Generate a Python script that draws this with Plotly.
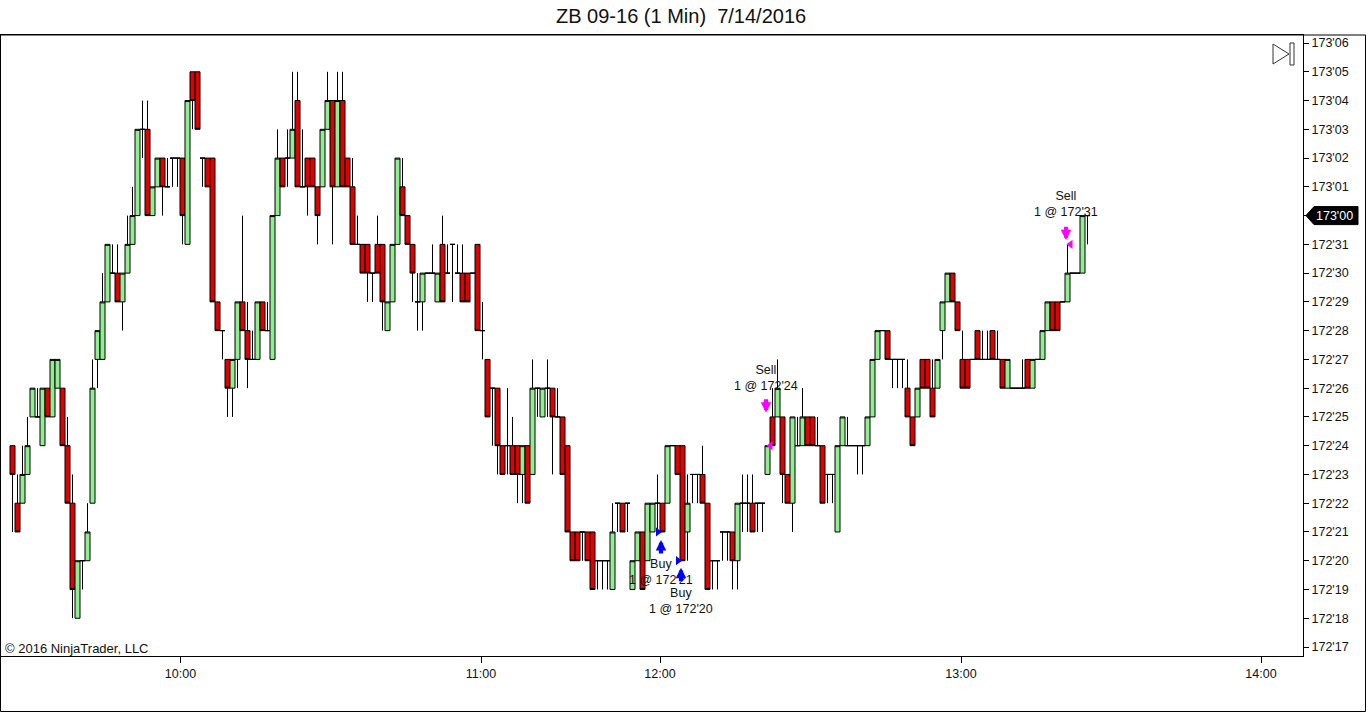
import plotly.graph_objects as go

# Prices are in 32nds above 172'00  (e.g. 24 -> 172'24, 32 -> 173'00)
opens = [24,22,22,23,25,25,24,26,25,26,26,24,22,18,20,20,22,27,27,29,
         30,30,29,30,31,32,35,35,32,33,34,33,34,34,34,31,37,37,34,34,
         34,29,28,27,26,27,29,28,27,27,29,28,27,32,34,34,34,36,33,34,
         34,33,33,35,36,33,36,34,33,31,31,31,30,31,31,28,29,31,33,32,
         31,29,29,30,30,29,31,30,31,30,30,30,30,31,28,27,26,26,24,24,
         24,24,23,24,23,26,25,26,26,25,25,24,21,21,21,21,21,20,20,20,
         19,22,22,22,19,20,21,20,21,22,22,22,24,24,24,21,23,23,23,22,
         20,20,21,21,21,20,22,22,22,22,22,23,25,25,25,23,22,24,24,25,
         25,24,24,23,23,21,24,24,24,24,24,24,25,27,28,28,27,27,27,26,
         25,25,27,27,26,26,28,29,30,29,27,27,27,28,27,27,28,27,27,26,
         26,26,26,27,26,27,27,28,29,29,29,29,30,30,30,32]
highs = [24,23,24,25,26,26,26,26,27,27,26,25,23,20,20,22,27,28,30,31,
         31,31,30,32,33,35,36,36,33,34,34,34,34,34,34,36,37,37,34,34,
         34,29,28,27,27,29,32,29,28,29,29,29,32,35,34,35,37,37,35,34,
         34,33,35,37,36,37,37,34,34,32,31,31,30,32,31,29,31,34,34,32,
         31,30,30,30,31,30,32,31,31,31,31,30,30,31,29,27,26,26,24,26,
         25,24,24,24,27,26,26,27,26,26,25,24,21,21,21,21,21,20,20,20,
         22,22,22,22,20,21,21,22,22,23,22,24,24,24,24,23,23,23,24,22,
         20,20,21,21,21,22,23,23,23,22,22,24,26,27,25,23,25,25,26,25,
         25,25,24,23,23,24,25,25,24,24,24,25,27,28,28,28,27,27,27,27,
         25,26,27,27,27,27,29,30,30,29,28,27,27,28,28,28,28,28,27,27,
         26,26,27,27,27,27,28,29,29,29,29,31,30,30,32,32]
lows = [21,21,22,23,25,25,24,25,25,26,24,22,18,18,19,20,22,26,27,29,
        30,29,28,30,31,32,34,32,32,33,32,33,33,33,31,31,35,35,33,33,
        29,28,27,25,25,26,28,26,27,27,28,28,27,32,33,33,34,33,33,32,
        33,31,33,35,31,33,33,33,31,31,30,29,29,30,28,28,29,31,32,31,
        29,28,28,30,30,29,29,30,29,30,29,29,30,28,27,25,24,23,23,23,
        23,22,22,22,23,25,25,25,23,25,23,21,20,20,20,20,19,19,19,19,
        19,21,21,21,19,20,19,20,21,21,21,22,24,23,20,20,22,22,22,19,
        19,19,20,20,19,19,21,21,21,21,21,23,24,25,22,22,21,24,24,24,
        24,24,22,22,22,21,24,24,24,23,23,24,25,27,28,27,26,26,26,25,
        24,25,26,26,25,26,27,29,29,28,26,26,27,27,27,27,27,27,26,26,
        26,26,26,26,26,27,27,28,28,28,29,29,30,30,30,31]
closes = [23,21,23,24,26,25,26,25,27,27,24,22,19,20,20,21,26,28,29,31,
          30,29,30,31,32,35,35,32,33,34,33,33,34,34,32,36,36,35,34,33,
          29,28,28,26,27,29,28,27,27,29,28,28,32,34,33,34,35,33,33,33,
          33,32,35,36,33,36,33,33,31,31,30,30,30,30,29,29,31,34,32,31,
          30,29,30,30,30,30,29,30,31,30,29,29,30,28,28,25,26,24,23,24,
          23,23,24,22,26,26,26,26,25,25,23,21,20,20,21,20,19,20,20,20,
          21,22,21,22,20,21,19,22,22,22,21,24,24,23,20,22,23,23,22,19,
          20,20,21,21,20,22,22,22,21,22,22,24,24,26,23,22,25,24,25,24,
          24,24,22,23,23,24,25,24,24,24,24,25,27,28,28,27,27,27,27,25,
          24,26,26,26,25,27,29,30,29,28,26,26,27,27,27,27,27,27,26,27,
          26,26,26,26,27,27,28,29,28,28,29,30,30,30,32,32]
bar_index = list(range(len(opens)))

# x-axis time labels (bar positions of the hour marks)
time_tick_pos = [33.6, 93.7, 129.5, 189.7, 249.7]
time_tick_text = ["10:00", "11:00", "12:00", "13:00", "14:00"]

# y-axis price labels
price_ticks = list(range(17, 39))
price_tick_text = [f"{172 + p // 32}'{p % 32:02d}" for p in price_ticks]

# executions
exec_bar = [130, 134, 151, 211]
exec_price = [21, 20, 24, 31]
exec_side = ["Buy", "Buy", "Sell", "Sell"]
exec_label = ["1 @ 172'21", "1 @ 172'20", "1 @ 172'24", "1 @ 172'31"]

# ---------------------------------------------------------------
W, H = 1366, 712
ML, MR, MT, MB = 1, 63, 35, 56
PW, PH = W - ML - MR, H - MT - MB
FONT = "Liberation Sans, Arial, sans-serif"


def px(x):
    return (x - ML) / PW


def py(y):
    return (H - MB - y) / PH


last_close = closes[-1]
# the last-price marker covers its own axis label
axis_tick_text = ["" if p == last_close else t for p, t in zip(price_ticks, price_tick_text)]

fig = go.Figure()
fig.add_trace(go.Candlestick(
    x=bar_index, open=opens, high=highs, low=lows, close=closes,
    increasing=dict(fillcolor="#90ee90", line=dict(color="black", width=1)),
    decreasing=dict(fillcolor="#e00000", line=dict(color="black", width=1)),
    whiskerwidth=0, hoverinfo="skip", showlegend=False,
))

# execution triangles
tri_x, tri_y, tri_sym, tri_col = [], [], [], []
for b, p, s in zip(exec_bar, exec_price, exec_side):
    if s == "Buy":
        tri_x.append(b - 0.9); tri_sym.append("triangle-right"); tri_col.append("#0000ff")
    else:
        tri_x.append(b + 0.6); tri_sym.append("triangle-left"); tri_col.append("#ff00ff")
    tri_y.append(p)
fig.add_trace(go.Scatter(
    x=tri_x, y=tri_y, mode="markers", hoverinfo="skip", showlegend=False,
    marker=dict(symbol=tri_sym, color=tri_col, size=8, line=dict(width=0)),
))

annotations = []
arrow_shift = {0: -8, 1: -7, 2: 33, 3: 4}
text_shift = {0: -40, 1: -40, 2: 68, 3: 40}
for i, (b, p, s, lab) in enumerate(zip(exec_bar, exec_price, exec_side, exec_label)):
    col = "#0000ff" if s == "Buy" else "#ff00ff"
    ax_dx = -0.3
    annotations.append(dict(
        x=b + ax_dx, y=p, xref="x", yref="y", text="", showarrow=True,
        ax=0, ay=(15 if s == "Buy" else -15), arrowhead=2, arrowsize=0.5,
        arrowwidth=4.2, arrowcolor=col, yshift=arrow_shift[i], standoff=0, startstandoff=0,
    ))
    annotations.append(dict(
        x=b + ax_dx, y=p, xref="x", yref="y", text=f"{s}<br>{lab}", showarrow=False,
        yshift=text_shift[i], font=dict(family=FONT, size=12.5, color="#111111"),
        xanchor="center", yanchor="middle",
    ))

# title
annotations.append(dict(
    x=px(680.5), y=py(16), xref="paper", yref="paper",
    text="ZB 09-16 (1 Min)\u00a0 7/14/2016", showarrow=False,
    font=dict(family=FONT, size=20, color="#111111"), xanchor="center", yanchor="middle",
))
# copyright
annotations.append(dict(
    x=px(3), y=py(648), xref="paper", yref="paper", text="\u00a9 2016 NinjaTrader, LLC",
    showarrow=False, font=dict(family=FONT, size=13, color="#111111"),
    xanchor="left", yanchor="middle",
))
# last price marker text
annotations.append(dict(
    x=px(1334), y=last_close, xref="paper", yref="y",
    text=price_tick_text[price_ticks.index(last_close)], showarrow=False,
    font=dict(family=FONT, size=12.5, color="white"), xanchor="center", yanchor="middle",
))

shapes = []
# outer frame
shapes.append(dict(type="rect", xref="paper", yref="paper",
                   x0=px(0.5), x1=px(1365.5), y0=py(711.5), y1=1,
                   line=dict(color="black", width=1), fillcolor="rgba(0,0,0,0)", layer="above"))
# last price marker
dy = 9 / 28.76
shapes.append(dict(
    type="path", xref="paper", yref="y",
    path=(f"M {px(1306)},{last_close} L {px(1314)},{last_close + dy} "
          f"L {px(1358)},{last_close + dy} L {px(1358)},{last_close - dy} "
          f"L {px(1314)},{last_close - dy} Z"),
    fillcolor="black", line=dict(color="black", width=1), layer="above"))
# "play to end" icon
shapes.append(dict(
    type="path", xref="paper", yref="paper",
    path=f"M {px(1273)},{py(44)} L {px(1289)},{py(54)} L {px(1273)},{py(64)} Z",
    fillcolor="white", line=dict(color="#333333", width=1)))
shapes.append(dict(
    type="rect", xref="paper", yref="paper",
    x0=px(1290), x1=px(1294), y0=py(65), y1=py(43),
    fillcolor="white", line=dict(color="#333333", width=1)))

fig.update_layout(
    width=W, height=H, margin=dict(l=ML, r=MR, t=MT, b=MB, pad=0),
    paper_bgcolor="white", plot_bgcolor="white", showlegend=False,
    boxgap=0, boxgroupgap=0, hovermode=False,
    font=dict(family=FONT, size=12, color="#111111"),
    annotations=annotations, shapes=shapes,
    xaxis=dict(
        range=[(ML - 12.5) / 5.0, (W - MR - 12.5) / 5.0],
        tickvals=time_tick_pos, ticktext=time_tick_text,
        ticks="outside", ticklen=6, tickcolor="black", tickwidth=1,
        showgrid=False, zeroline=False, showline=True, linecolor="black",
        linewidth=1, mirror=True, rangeslider=dict(visible=False),
        tickfont=dict(family=FONT, size=12.5, color="#111111"), fixedrange=True,
    ),
    yaxis=dict(
        side="right", range=[17 - 9 / 28.76, 17 + 612 / 28.76],
        tickvals=price_ticks, ticktext=axis_tick_text,
        ticks="outside", ticklen=5, tickcolor="black", tickwidth=1,
        showgrid=False, zeroline=False, showline=True, linecolor="black",
        linewidth=1, mirror=True,
        tickfont=dict(family=FONT, size=12.5, color="#111111"), fixedrange=True,
    ),
)

fig.write_html("out.html", config={"displayModeBar": False},
               post_script="document.body.style.margin='0';")
